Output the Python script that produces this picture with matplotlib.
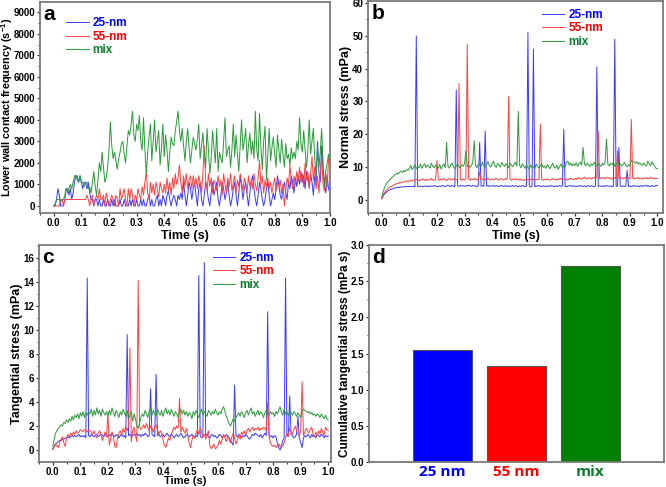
import numpy as np
import matplotlib
matplotlib.use('Agg')
import matplotlib.pyplot as plt
from matplotlib.ticker import MultipleLocator

plt.rcParams['font.family'] = ['Liberation Sans', 'DejaVu Sans']
plt.rcParams['font.weight'] = 'bold'
plt.rcParams['axes.labelweight'] = 'bold'
plt.rcParams['mathtext.fontset'] = 'custom'
plt.rcParams['mathtext.bf'] = 'Liberation Sans:bold'
plt.rcParams['mathtext.rm'] = 'Liberation Sans:bold'
plt.rcParams['mathtext.default'] = 'bf'

# ---- data (dt = 0.005 s) ----
time = np.linspace(0, 1, 201)
series_names = ['25-nm', '55-nm', 'mix']

# a: lower wall contact frequency (1/s)
freq_25 = [0, 0, 300, 800, 500, 0, 0, 0, 300, 800, 800, 500, 800, 300, 600, 1100, 1400, 1400, 1100, 1400,
           1100, 800, 1100, 1100, 800, 1100, 600, 300, 300, 0, 300, 300, 0, 300, 0, 0, 300, 0, 0, 300,
           0, 0, 300, 0, 300, 0, 0, 0, 300, 0, 0, 300, 0, 0, 0, 300, 0, 300, 0, 0,
           300, 0, 0, 300, 0, 300, 0, 0, 300, 500, 0, 300, 0, 0, 300, 500, 0, 300, 0, 500,
           300, 0, 500, 700, 300, 0, 300, 500, 300, 0, 500, 300, 600, 300, 1100, 500, 0, 500, 1100, 800,
           300, 800, 1100, 500, 0, 800, 1100, 300, 0, 500, 1100, 800, 300, 0, 600, 1100, 500, 800, 1100, 300,
           0, 500, 1100, 800, 300, 600, 1100, 500, 0, 300, 800, 1100, 500, 0, 600, 1400, 900, 300, 800, 1100,
           500, 0, 600, 1100, 1400, 800, 300, 0, 500, 1100, 800, 300, 0, 300, 800, 1100, 500, 0, 300, 600,
           300, 800, 1400, 1000, 500, 300, 800, 1100, 600, 300, 1100, 800, 1400, 1100, 600, 1300, 900, 1400, 1000, 1600,
           1100, 1400, 800, 1600, 1200, 900, 1500, 1100, 500, 1400, 1000, 3000, 1600, 1100, 2800, 1800, 1000, 600, 1400, 800,
           600]
freq_55 = [0, 0, 0, 0, 0, 300, 300, 0, 300, 300, 300, 300, 300, 300, 300, 300, 300, 300, 300, 300,
           300, 300, 300, 300, 500, 300, 0, 300, 500, 0, 300, 500, 300, 800, 300, 300, 500, 0, 600, 300,
           0, 300, 500, 300, 0, 500, 300, 0, 800, 300, 500, 800, 300, 0, 800, 300, 800, 500, 0, 500,
           300, 800, 500, 300, 900, 500, 1100, 1600, 600, 300, 1100, 600, 1000, 500, 1100, 800, 400, 1100, 800, 600,
           1000, 600, 1300, 700, 1100, 500, 1300, 800, 1500, 1000, 1300, 1900, 1100, 600, 1400, 900, 1500, 800, 1200, 1400,
           800, 1400, 1000, 1300, 800, 1400, 1100, 600, 1500, 2800, 1200, 700, 1500, 900, 1300, 600, 1200, 1000, 700, 1400,
           900, 1200, 500, 1500, 1000, 600, 1300, 900, 1500, 700, 1100, 1400, 600, 1200, 900, 1500, 1100, 700, 1300, 1000,
           600, 1400, 900, 1200, 800, 1500, 1000, 700, 1300, 2100, 1000, 1400, 600, 1200, 900, 1300, 800, 1100, 600, 1000,
           1300, 700, 1100, 900, 1200, 600, 1000, 0, 700, 1300, 1000, 1900, 1200, 800, 1400, 1000, 1600, 1200, 1800, 1100,
           1500, 900, 2000, 1200, 1600, 800, 1500, 2300, 1200, 1800, 800, 1400, 600, 1500, 2300, 1000, 700, 1500, 900, 2200,
           2300]
freq_mix = [0, 100, 300, 300, 300, 200, 300, 300, 500, 800, 600, 800, 1000, 800, 1100, 1400, 1400, 1200, 1100, 1400,
            1100, 1100, 900, 1100, 1100, 800, 900, 600, 1100, 1600, 900, 500, 1200, 2000, 1600, 2500, 1800, 1100, 1300, 1800,
            2600, 3900, 2800, 2200, 2500, 2100, 1700, 2200, 2500, 2900, 3000, 2400, 2000, 2800, 3500, 3300, 3800, 4400, 3300, 3000,
            3800, 3500, 4200, 3000, 2600, 4100, 2600, 1500, 2500, 3200, 3800, 2100, 3000, 4000, 2500, 3000, 3500, 1900, 2700, 3800,
            2300, 3300, 2600, 1600, 2500, 3200, 2900, 2800, 3500, 3900, 4400, 3500, 3000, 3600, 2800, 2100, 3000, 3600, 2700, 2000,
            2600, 3200, 2900, 2600, 3100, 3800, 2200, 2800, 3400, 2400, 1800, 3600, 2600, 1500, 2200, 3500, 2700, 2000, 3600, 1600,
            2500, 2200, 2000, 3000, 4100, 2300, 2600, 2800, 1800, 2600, 3800, 2300, 3300, 2400, 1600, 2800, 4000, 2600, 3000, 3600,
            2000, 2800, 3400, 2400, 3000, 2200, 4400, 2600, 2100, 4300, 2800, 1700, 3000, 3700, 1200, 2400, 3600, 2100, 2700, 3200,
            2400, 1800, 3300, 2600, 2000, 3100, 2400, 1800, 2900, 2200, 2400, 1900, 2700, 2200, 2500, 2200, 3000, 2600, 4100, 2900,
            2500, 3500, 2600, 1800, 2600, 4000, 2400, 3000, 3600, 2200, 1400, 2700, 1800, 2500, 3600, 2000, 900, 1600, 2000, 2400,
            2000]

# b: normal stress (mPa)
normal_25 = [0.5, 1.2, 1.8, 2.2, 2.6, 2.9, 3.1, 3.3, 3.4, 3.6, 3.7, 3.8, 3.8, 3.9, 4.0, 3.9, 4.0, 4.1, 4.0, 4.1,
             4.0, 4.1, 4.0, 4.2, 4.0, 50.0, 4.1, 4.0, 4.2, 4.1, 4.0, 4.3, 4.1, 4.2, 4.0, 4.3, 4.1, 4.2, 4.4, 4.1,
             4.2, 4.0, 4.3, 4.1, 4.4, 4.2, 4.0, 4.3, 4.5, 4.2, 4.1, 4.4, 4.2, 4.0, 33.5, 4.3, 4.1, 4.4, 4.2, 4.3,
             4.1, 4.4, 4.2, 4.5, 4.3, 4.1, 4.4, 4.2, 4.3, 4.0, 4.4, 17.5, 4.2, 4.3, 4.1, 21.0, 4.2, 4.4, 4.1, 4.3,
             4.2, 4.4, 4.1, 4.3, 4.2, 4.0, 4.4, 4.3, 4.1, 4.2, 4.4, 4.0, 4.3, 4.1, 4.2, 4.4, 4.1, 4.3, 4.2, 4.0,
             4.3, 4.1, 4.4, 4.2, 4.0, 4.3, 51.0, 4.1, 3.9, 4.2, 46.0, 4.0, 4.3, 4.1, 4.4, 4.2, 4.0, 4.3, 4.1, 4.2,
             4.0, 4.3, 4.1, 4.4, 4.2, 4.0, 4.3, 4.1, 4.2, 4.4, 4.1, 4.3, 21.5, 4.1, 4.0, 4.3, 4.2, 4.4, 4.1, 4.3,
             4.2, 4.0, 4.3, 4.1, 4.4, 4.2, 4.1, 4.3, 4.0, 4.2, 4.4, 4.1, 4.3, 4.2, 4.0, 4.3, 40.5, 4.1, 4.3, 4.2,
             4.0, 4.3, 4.1, 4.4, 4.2, 4.1, 4.3, 4.0, 4.2, 49.0, 4.1, 4.3, 16.0, 4.2, 4.0, 4.3, 4.1, 4.2, 9.0, 4.1,
             4.3, 4.0, 4.2, 4.4, 4.1, 4.3, 4.2, 4.0, 4.4, 4.1, 4.3, 4.2, 4.5, 4.1, 4.3, 4.0, 4.4, 4.2, 4.1, 4.5,
             4.3]
normal_55 = [0.3, 1.5, 2.3, 2.8, 3.2, 3.6, 3.9, 4.1, 4.4, 4.6, 4.8, 5.0, 5.0, 5.3, 5.2, 5.5, 5.4, 5.6, 5.8, 5.5,
             5.8, 6.0, 5.7, 6.1, 5.9, 6.3, 6.0, 5.8, 6.2, 6.0, 6.4, 6.1, 5.9, 6.3, 6.0, 6.2, 6.5, 6.1, 5.9, 6.3,
             12.0, 6.2, 6.0, 6.4, 6.1, 6.5, 6.2, 5.9, 6.3, 6.6, 6.0, 6.4, 6.2, 6.5, 6.1, 6.3, 35.5, 6.2, 6.0, 6.4,
             6.1, 6.5, 47.5, 6.3, 6.0, 6.4, 6.2, 6.6, 6.1, 6.3, 6.0, 8.5, 6.4, 6.2, 6.5, 6.1, 6.3, 6.6, 6.2, 6.0,
             6.4, 6.1, 6.3, 6.6, 6.2, 6.0, 6.5, 6.3, 6.1, 6.4, 6.2, 6.6, 31.5, 6.3, 6.0, 6.4, 6.2, 6.5, 6.1, 6.3,
             6.0, 6.3, 6.1, 5.9, 6.2, 6.4, 6.0, 6.3, 6.1, 6.5, 6.2, 6.0, 6.3, 6.1, 6.4, 23.0, 6.2, 6.0, 6.3, 6.1,
             6.4, 6.2, 6.0, 6.3, 6.5, 6.1, 6.3, 6.0, 6.4, 6.2, 6.6, 6.1, 6.3, 6.5, 6.2, 6.0, 6.4, 6.6, 6.3, 6.1,
             6.5, 6.2, 6.8, 6.4, 6.7, 6.3, 6.6, 6.9, 6.4, 6.7, 6.5, 6.8, 6.3, 6.6, 6.9, 6.5, 6.7, 21.0, 6.4, 6.8,
             6.5, 6.8, 6.4, 6.7, 6.9, 6.5, 6.7, 6.3, 6.6, 6.8, 6.4, 15.0, 6.7, 6.5, 6.8, 6.4, 6.6, 6.9, 6.5, 6.7,
             6.4, 24.5, 6.6, 6.3, 6.7, 6.5, 6.8, 6.4, 6.6, 6.3, 6.7, 6.5, 6.8, 6.4, 6.6, 6.9, 6.5, 6.7, 6.4, 6.6,
             6.5]
normal_mix = [0.8, 2.5, 3.8, 4.6, 5.3, 5.8, 6.2, 6.8, 7.0, 7.5, 7.8, 8.2, 7.9, 8.5, 8.8, 8.3, 9.0, 8.6, 9.3, 9.0,
              9.6, 10.5, 9.2, 10.0, 10.7, 9.5, 10.2, 9.8, 10.9, 9.6, 10.4, 11.0, 9.9, 10.6, 10.1, 9.7, 11.2, 10.3, 9.8, 10.6,
              10.0, 9.6, 10.8, 9.4, 10.3, 11.0, 9.8, 17.5, 10.2, 9.7, 10.6, 11.2, 10.0, 9.5, 10.4, 11.0, 10.1, 9.8, 10.7, 10.3,
              11.0, 15.0, 10.2, 10.6, 9.9, 10.5, 11.3, 18.0, 10.4, 9.8, 11.0, 10.6, 10.1, 11.5, 10.3, 9.9, 10.8, 11.6, 10.5, 10.0,
              10.9, 11.8, 10.4, 9.9, 11.2, 10.6, 10.0, 11.4, 10.7, 10.2, 11.0, 10.5, 9.8, 11.3, 10.6, 10.1, 10.8, 11.5, 10.3, 27.0,
              10.5, 9.8, 11.0, 10.3, 9.6, 10.7, 9.9, 9.4, 10.6, 9.8, 10.2, 9.5, 10.9, 10.1, 9.7, 10.4, 11.0, 9.9, 10.3, 9.6,
              10.8, 10.1, 9.5, 10.4, 11.2, 10.0, 9.7, 10.6, 9.3, 10.2, 10.9, 9.8, 10.3, 10.0, 11.5, 11.8, 10.6, 11.2, 10.4, 11.0,
              10.5, 11.3, 10.2, 10.9, 11.5, 10.6, 16.0, 11.0, 10.4, 11.2, 10.7, 10.1, 11.0, 10.5, 11.4, 10.8, 10.3, 11.1, 10.6, 10.2,
              11.2, 10.6, 11.5, 18.5, 10.9, 10.4, 11.1, 10.7, 11.6, 10.2, 10.9, 11.3, 10.5, 11.0, 10.3, 10.8, 11.4, 10.6, 10.1, 10.7,
              10.4, 12.0, 11.8, 11.5, 11.2, 11.6, 10.9, 11.3, 10.8, 10.5, 11.2, 10.7, 10.3, 11.8, 11.0, 10.4, 11.6, 10.8, 10.2, 9.6,
              9.5]

# c: tangential stress (mPa)
tang_25 = [0.1, 0.3, 0.5, 0.6, 0.7, 0.8, 0.8, 0.9, 0.9, 1.0, 1.0, 1.1, 1.0, 1.1, 1.2, 1.1, 1.2, 1.1, 1.2, 1.3,
           1.1, 1.2, 1.1, 1.2, 1.0, 14.3, 1.2, 1.1, 1.3, 1.2, 1.1, 1.2, 1.3, 1.1, 1.2, 1.3, 1.2, 1.1, 1.3, 1.2,
           1.1, 1.3, 1.2, 1.4, 1.2, 1.1, 1.3, 1.2, 1.0, 1.2, 1.3, 1.1, 1.2, 1.0, 9.6, 1.2, 1.3, 1.1, 1.2, 1.3,
           1.2, 1.4, 1.2, 1.3, 1.1, 1.3, 1.2, 1.4, 1.3, 1.1, 1.2, 5.1, 1.3, 1.2, 1.1, 6.3, 1.2, 1.3, 1.1, 1.2,
           1.3, 1.1, 1.2, 1.4, 1.2, 1.1, 1.3, 1.2, 1.0, 1.2, 1.3, 1.1, 1.2, 1.4, 1.2, 1.0, 1.1, 1.3, 1.2, 1.1,
           1.2, 1.3, 1.1, 1.0, 1.2, 1.1, 14.5, 1.2, 1.0, 1.1, 15.6, 1.2, 1.3, 1.1, 1.0, 1.2, 1.3, 1.1, 1.2, 1.0,
           1.1, 1.3, 1.2, 1.0, 1.2, 1.1, 1.3, 1.2, 1.0, 0.8, 0.6, 0.4, 5.4, 1.2, 1.1, 1.3, 1.2, 1.0, 1.2, 1.1,
           1.3, 1.2, 1.0, 0.9, 1.1, 1.3, 1.2, 1.4, 1.3, 1.2, 1.1, 1.3, 1.0, 1.2, 1.4, 1.2, 11.5, 1.3, 1.1, 1.2,
           1.0, 1.2, 1.1, 0.6, 0.2, 0.0, 0.3, 0.8, 1.0, 14.3, 1.2, 1.1, 4.5, 1.3, 1.2, 1.0, 1.1, 1.3, 2.8, 1.0,
           0.6, 0.2, 1.0, 1.2, 1.1, 1.3, 1.2, 1.0, 1.3, 1.1, 1.2, 1.0, 1.3, 1.2, 1.1, 1.3, 1.2, 1.0, 1.2, 1.1,
           1.2]
tang_55 = [0.0, 0.3, 0.5, 0.3, 0.2, 0.6, 0.9, 1.1, 0.6, 0.3, 1.0, 1.3, 1.1, 1.4, 1.2, 1.5, 1.3, 1.6, 1.4, 1.5,
           1.7, 1.6, 1.5, 1.7, 1.6, 1.5, 1.7, 1.6, 1.5, 1.3, 1.6, 1.2, 1.0, 1.4, 1.6, 1.3, 0.8, 1.2, 1.5, 1.1,
           3.1, 0.4, 0.9, 1.5, 1.1, 0.3, 0.2, 1.0, 1.4, 1.6, 1.2, 1.8, 1.5, 1.9, 1.6, 2.0, 8.5, 0.7, 1.6, 1.9,
           1.2, 0.7, 14.1, 2.0, 1.7, 1.9, 2.1, 1.8, 2.2, 1.9, 1.6, 2.0, 1.8, 1.5, 1.9, 2.1, 1.7, 1.3, 1.6, 1.4,
           0.9, 0.4, 0.2, 0.6, 1.0, 0.8, 1.3, 1.6, 1.9, 1.7, 2.0, 1.8, 4.3, 1.5, 1.9, 1.6, 1.4, 1.8, 1.2, 0.6,
           0.2, 0.8, 1.2, 1.0, 1.4, 1.7, 1.3, 1.8, 1.5, 1.1, 1.3, 0.9, 1.2, 1.6, 0.4, 0.1, 0.3, 0.5, 0.1, 0.2,
           0.4, 0.8, 0.5, 0.9, 1.3, 1.0, 0.7, 1.2, 0.9, 0.6, 1.1, 1.4, 1.0, 0.5, 0.8, 1.2, 0.9, 1.5, 1.3, 1.6,
           1.2, 1.6, 1.8, 1.5, 1.7, 1.9, 1.6, 1.8, 1.7, 1.9, 1.6, 1.8, 1.7, 1.9, 1.8, 1.6, 4.0, 1.2, 0.6, 0.4,
           0.3, 0.4, 0.2, 0.3, 0.5, 0.3, 0.2, 0.4, 0.6, 1.0, 1.4, 1.2, 1.8, 1.5, 1.3, 1.7, 2.0, 1.6, 1.4, 1.2,
           1.6, 5.7, 1.2, 1.5, 1.8, 1.6, 1.4, 1.7, 1.9, 1.3, 1.1, 1.5, 1.2, 1.6, 1.3, 1.8, 1.5, 1.2, 1.9, 1.7,
           1.6]
tang_mix = [0.3, 0.9, 1.4, 1.6, 1.8, 1.9, 2.1, 2.0, 2.3, 2.2, 2.5, 2.3, 2.6, 2.4, 2.8, 2.5, 2.9, 2.7, 3.0, 2.6,
            3.1, 2.8, 3.2, 2.7, 3.1, 2.9, 3.2, 3.0, 3.4, 2.8, 3.3, 2.9, 3.5, 3.0, 3.3, 2.8, 3.4, 3.1, 2.9, 3.2,
            2.8, 3.3, 2.9, 3.5, 3.1, 2.8, 3.3, 3.0, 2.7, 3.2, 2.9, 3.4, 3.1, 2.8, 3.3, 2.6, 2.9, 3.2, 2.4, 3.0,
            2.6, 2.0, 1.8, 2.2, 2.7, 3.0, 2.8, 3.3, 3.0, 2.7, 3.2, 3.5, 2.9, 3.3, 3.0, 2.8, 3.4, 3.1, 2.9, 3.3,
            2.8, 3.2, 3.5, 3.0, 3.3, 2.9, 3.4, 3.1, 2.8, 3.2, 3.0, 2.7, 3.1, 3.4, 3.0, 3.3, 2.9, 3.2, 2.8, 3.1,
            3.0, 2.6, 3.2, 2.9, 3.3, 3.0, 2.7, 3.1, 3.4, 2.9, 3.2, 3.0, 2.8, 3.3, 3.1, 2.9, 3.2, 3.0, 3.4, 3.1,
            2.9, 3.2, 3.0, 3.4, 3.6, 3.2, 2.8, 2.5, 2.2, 2.0, 2.3, 2.6, 2.4, 2.7, 2.9, 3.1, 2.8, 3.2, 3.0, 2.7,
            3.1, 3.3, 2.9, 3.2, 3.5, 3.0, 3.2, 2.8, 3.1, 3.3, 2.9, 3.2, 3.0, 2.7, 3.1, 3.3, 3.0, 2.9, 3.2, 3.0,
            3.1, 2.8, 3.2, 3.0, 3.3, 3.6, 3.1, 2.9, 3.4, 3.0, 3.2, 2.8, 3.3, 3.1, 2.9, 3.2, 3.0, 2.8, 3.1, 2.9,
            2.7, 3.3, 3.4, 3.3, 3.2, 3.1, 3.2, 3.0, 3.1, 2.9, 3.0, 2.8, 3.0, 2.9, 2.7, 3.0, 2.8, 2.6, 2.9, 2.6,
            2.5]

# d: cumulative tangential stress (mPa s)
bar_labels = ['25 nm', '55 nm', 'mix']
bar_values = [1.55, 1.33, 2.71]

line_colors = ['#3a3aff', '#ff4040', '#2a9a3a']
text_colors = ['#0000ff', '#ff0000', '#0a7f2a']
bar_colors = ['#0000ff', '#ff0000', '#008000']
frame_color = '#7a7a7a'


def style_axes(ax):
    for side in ax.spines.values():
        side.set_color(frame_color)
        side.set_linewidth(1.3)
    ax.tick_params(which='both', direction='out', top=False, right=False,
                   color='#333333', labelsize=7, pad=1)
    ax.tick_params(which='major', length=2.5, width=0.9)
    ax.tick_params(which='minor', length=1.5, width=0.7)


def time_panel(ax, ys, letter, ylabel, ylim, ymajor, legend_anchor, xmax=1.0,
               ylabel_x=-0.075, xlabel_y=-0.109, ylabel_size=9, xlabel_size=9):
    for y, c, name in zip(ys, line_colors, series_names):
        ax.plot(time, y, color=c, lw=0.7, label=name)
    ax.set_xlim(-0.05, xmax)
    ax.set_ylim(*ylim)
    ax.xaxis.set_minor_locator(MultipleLocator(0.05))
    ax.yaxis.set_major_locator(MultipleLocator(ymajor))
    ax.yaxis.set_minor_locator(MultipleLocator(ymajor / 2))
    ticks = np.round(np.arange(0, 1.01, 0.1), 1)
    ax.set_xticks(ticks)
    ax.set_xticklabels([f'{v:.1f}' for v in ticks])
    ax.set_xlabel('Time (s)', fontsize=xlabel_size, va='center')
    ax.set_ylabel(ylabel, fontsize=ylabel_size, va='center')
    ax.xaxis.set_label_coords(0.5, xlabel_y)
    ax.yaxis.set_label_coords(ylabel_x, 0.5)
    style_axes(ax)
    ax.text(0.012, 0.985, letter, transform=ax.transAxes, fontsize=15,
            fontweight='bold', va='top', ha='left')
    leg = ax.legend(loc='upper left', bbox_to_anchor=legend_anchor, frameon=False,
                    borderpad=0, handlelength=1.9, handletextpad=0.35, labelspacing=0.12,
                    prop={'weight': 'bold', 'size': 8.5})
    for txt, c in zip(leg.get_texts(), text_colors):
        txt.set_color(c)


fig = plt.figure(figsize=(6.66, 4.87), dpi=100)

ax_a = fig.add_axes([0.060, 0.5626, 0.4354, 0.4333])
time_panel(ax_a, [freq_25, freq_55, freq_mix], 'a',
           'Lower wall contact frequency (s$^{-1}$)', (-330, 9480), 1000,
           legend_anchor=(0.07, 0.955), ylabel_x=-0.112, ylabel_size=7.8)

ax_b = fig.add_axes([0.5526, 0.5626, 0.4429, 0.4353])
time_panel(ax_b, [normal_25, normal_55, normal_mix], 'b',
           'Normal stress (mPa)', (-4, 60.6), 10,
           legend_anchor=(0.57, 0.99), xmax=1.02)

ax_c = fig.add_axes([0.0586, 0.0513, 0.4384, 0.4456])
time_panel(ax_c, [tang_25, tang_55, tang_mix], 'c',
           'Tangential stress (mPa)', (-1, 17.05), 2,
           legend_anchor=(0.575, 0.995), xmax=1.01, xlabel_y=-0.088, xlabel_size=8)

ax_d = fig.add_axes([0.554, 0.0513, 0.443, 0.4456])
pos = np.arange(1, len(bar_values) + 1)
ax_d.bar(pos, bar_values, width=0.8, color=bar_colors, edgecolor='#555555', linewidth=0.8)
ax_d.set_xlim(0, 4)
ax_d.set_ylim(0, 3.0)
ax_d.yaxis.set_major_locator(MultipleLocator(0.5))
ax_d.yaxis.set_minor_locator(MultipleLocator(0.25))
ax_d.set_xticks(pos)
ax_d.set_xticklabels(bar_labels)
ax_d.set_ylabel('Cumulative tangential stress (mPa s)', fontsize=8.5, va='center')
ax_d.yaxis.set_label_coords(-0.08, 0.5)
style_axes(ax_d)
ax_d.tick_params(axis='x', length=0, pad=2)
for lab, c in zip(ax_d.get_xticklabels(), text_colors):
    lab.set_color(c)
    lab.set_fontfamily(['Open Sans', 'DejaVu Sans'])
    lab.set_fontweight('bold')
    lab.set_fontsize(11)
ax_d.text(0.012, 0.985, 'd', transform=ax_d.transAxes, fontsize=15,
          fontweight='bold', va='top', ha='left')

fig.savefig('out.png', dpi=100)
